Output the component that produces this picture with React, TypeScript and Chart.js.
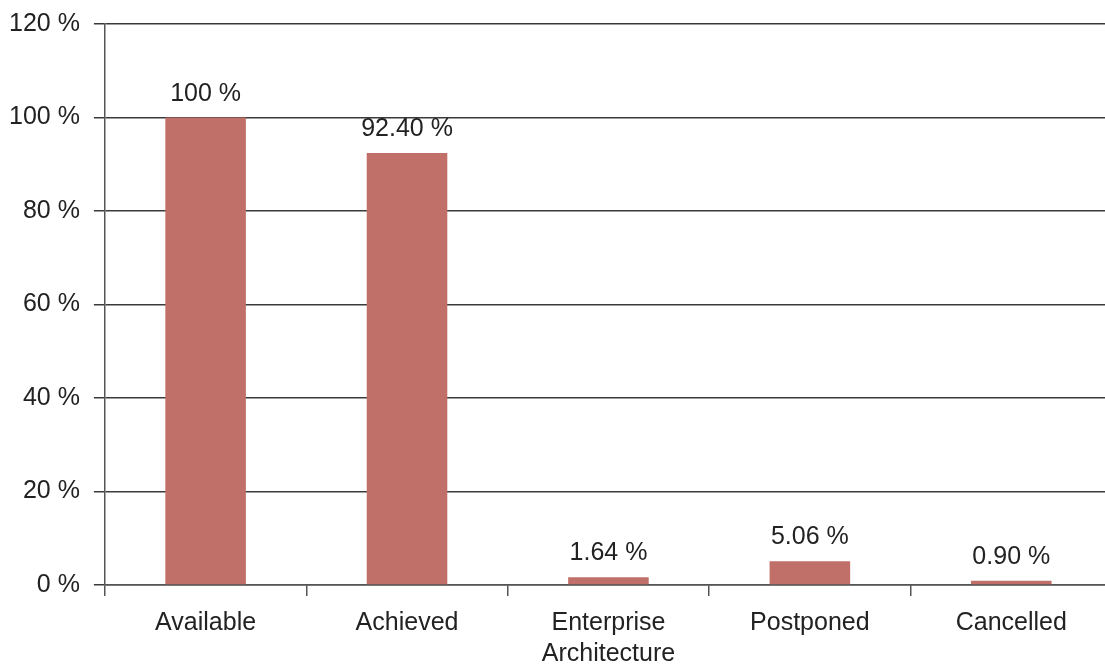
import React, { useEffect, useRef } from "react";
import { Chart, registerables } from "chart.js";

Chart.register(...registerables);

const categories: (string | string[])[] = [
  "Available",
  "Achieved",
  ["Enterprise", "Architecture"],
  "Postponed",
  "Cancelled",
];
const values = [100, 92.4, 1.64, 5.06, 0.9];
const valueLabels = ["100 %", "92.40 %", "1.64 %", "5.06 %", "0.90 %"];

const FONT = "Arial, 'Liberation Sans', sans-serif";

const labelPlugin = {
  id: "valueLabels",
  afterDatasetsDraw(chart: any) {
    const ctx = chart.ctx;
    const meta = chart.getDatasetMeta(0);
    ctx.save();
    ctx.font = `25px ${FONT}`;
    ctx.fillStyle = "#222222";
    ctx.textAlign = "center";
    ctx.textBaseline = "alphabetic";
    meta.data.forEach((bar: any, i: number) => {
      ctx.fillText(valueLabels[i], bar.x, bar.y - 17);
    });
    ctx.restore();
  },
};

export default function App() {
  const ref = useRef<HTMLCanvasElement>(null);
  useEffect(() => {
    document.body.style.margin = "0";
    const chart = new Chart(ref.current!, {
      type: "bar",
      data: {
        labels: categories,
        datasets: [
          {
            data: values,
            backgroundColor: "#C07068",
            barPercentage: 0.4,
            categoryPercentage: 1,
          },
        ],
      },
      options: {
        responsive: false,
        animation: false,
        layout: { padding: { top: 7, left: 0, right: 0, bottom: 0 } },
        plugins: { legend: { display: false }, tooltip: { enabled: false } },
        scales: {
          x: {
            offset: true,
            grid: {
              offset: true,
              drawOnChartArea: false,
              drawTicks: true,
              tickLength: 11,
              color: "#555555",
              lineWidth: 1.5,
            },
            border: { display: true, color: "#555555", width: 1.5 },
            ticks: {
              font: { size: 25, family: FONT, lineHeight: 1.24 },
              color: "#222222",
              maxRotation: 0,
              padding: 12,
            },
          },
          y: {
            min: 0,
            max: 120,
            ticks: {
              stepSize: 20,
              callback: (v: any) => `${v} %`,
              font: { size: 25, family: FONT },
              color: "#222222",
              padding: 14,
            },
            grid: {
              color: "#3a3a3a",
              lineWidth: 1.5,
              tickLength: 11,
            },
            border: { display: true, color: "#555555", width: 1.5 },
          },
        },
      },
      plugins: [labelPlugin],
    });
    return () => chart.destroy();
  }, []);
  return (
    <div style={{ width: 1105, height: 664, overflow: "hidden" }}>
      <canvas
        ref={ref}
        width={1117}
        height={687}
        style={{ display: "block", marginLeft: -5, marginTop: -5 }}
      />
    </div>
  );
}
